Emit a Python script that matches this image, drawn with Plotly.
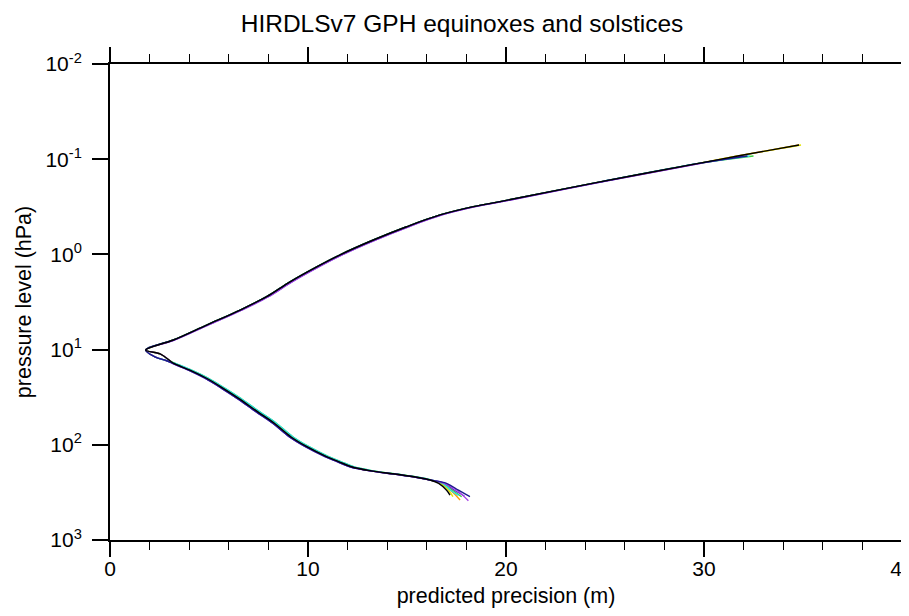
import plotly.graph_objects as go

# ---- data ----
# upper branch (pressure hPa, precision m)
p_upper = [0.11, 0.173, 0.279, 0.315, 0.385, 0.512, 0.706, 1.01, 1.35, 1.94, 2.78, 3.84, 5.52, 7.93, 10.1]
x_upper = [29.8, 24.75, 19.70, 18.35, 16.67, 14.98, 13.30, 11.62, 10.44, 9.09, 7.91, 6.57, 4.88, 3.20, 1.80]
x_upper_b = [29.9, 24.85, 19.80, 18.45, 16.77, 15.08, 13.40, 11.72, 10.54, 9.19, 8.00, 6.65, 4.95, 3.25, 1.80]

# small lens just below the minimum (two paths)
p_lens_a = [11.1, 13.1]
x_lens_a = [2.53, 3.03]
p_lens_b = [11.9, 13.1]
x_lens_b = [2.27, 2.86]

# lower branch
p_lower = [13.9, 16.4, 20.0, 25.5, 32.5, 44.9, 59.4, 82.2, 104.7, 133, 150, 170, 187, 204, 219, 234]
x_lower = [3.20, 4.04, 4.88, 5.72, 6.50, 7.45, 8.30, 9.13, 9.95, 10.94, 11.55, 12.20, 13.13, 14.48, 15.49, 16.16]
x_lower_b = [3.26, 4.12, 4.97, 5.81, 6.60, 7.55, 8.40, 9.23, 10.05, 11.04, 11.65, 12.30, 13.22, 14.56, 15.56, 16.22]
x_lower_c = [3.14, 3.97, 4.80, 5.64, 6.42, 7.37, 8.22, 9.05, 9.87, 10.86, 11.47, 12.12, 13.06, 14.42, 15.44, 16.14]

# per-series settings
names = ["orange", "yellow", "green", "cyan", "blueviolet", "purple", "navy", "black"]
colors = ["#ff9a00", "#e4e400", "#3ccf3c", "#2ee0e0", "#6a30d0", "#a642e6", "#1c1c8c", "#000000"]
upper_set = ["a", "a", "a", "a", "b", "b", "a", "a"]
lower_set = ["a", "a", "b", "b", "c", "c", "c", "a"]
lens = ["b", "a", "a", "b", "b", "a", "b", "a"]
top_p = [[0.071, 0.0925], [0.071, 0.0925], [0.0925], [0.0925], [0.0925], [], [0.0925], [0.071, 0.0925]]
top_x = [[34.8, 31.7], [34.9, 31.7], [32.5], [32.3], [32.0], [], [32.2], [34.8, 31.7]]
bot_p = [[254, 300, 380], [254, 300, 351], [254, 300, 351], [254, 300, 340],
         [254, 300, 345], [254, 298, 386], [254, 300, 351], [254, 300, 337]]
bot_x = [[16.7, 17.2, 17.68], [16.7, 17.1, 17.32], [16.8, 17.3, 17.76], [16.8, 17.2, 17.6],
         [16.9, 17.4, 17.9], [16.9, 17.5, 18.1], [17.0, 17.6, 18.18], [16.6, 17.0, 17.17]]

title = "HIRDLSv7 GPH equinoxes and solstices"
x_title = "predicted precision (m)"
y_title = "pressure level (hPa)"
y_tickvals = [0.01, 0.1, 1, 10, 100, 1000]
y_ticktext = ["10<sup>-2</sup>", "10<sup>-1</sup>", "10<sup>0</sup>", "10<sup>1</sup>", "10<sup>2</sup>", "10<sup>3</sup>"]
x_tickvals = [0, 10, 20, 30, 40]

FONT = "Liberation Sans, Arial, Helvetica, sans-serif"

upper_map = {"a": x_upper, "b": x_upper_b}
lower_map = {"a": x_lower, "b": x_lower_b, "c": x_lower_c}
lens_map = {"a": (p_lens_a, x_lens_a), "b": (p_lens_b, x_lens_b)}

fig = go.Figure()
for i, name in enumerate(names):
    lp, lx = lens_map[lens[i]]
    pairs = sorted(zip(top_p[i], top_x[i]))
    p = [a for a, _ in pairs] + p_upper + lp + p_lower + bot_p[i]
    x = ([b for _, b in pairs] + upper_map[upper_set[i]] + lx
         + lower_map[lower_set[i]] + bot_x[i])
    fig.add_trace(go.Scatter(x=x, y=p, mode="lines", name=name,
                             line=dict(color=colors[i], width=1.4, shape="spline", smoothing=1.0)))

# the page body has an 8px margin; height kept so that no vertical scrollbar appears
W, H = 901, 600
fig.update_layout(
    width=W, height=H,
    margin=dict(l=102, r=7, t=56, b=H - 56 - 476, autoexpand=False),
    paper_bgcolor="white", plot_bgcolor="white",
    showlegend=False,
    font=dict(family=FONT, color="black"),
    title=dict(text=title, x=454 / W, xref="container", xanchor="center",
               y=1 - 15 / H, yref="container", yanchor="middle", automargin=False,
               font=dict(family=FONT, size=24.5, color="black")),
)
fig.update_xaxes(
    range=[0, 40], tickvals=x_tickvals, ticks="outside", ticklen=15, tickwidth=1.5,
    tickcolor="black", showline=True, linecolor="black", linewidth=2, mirror="ticks",
    showgrid=False, zeroline=False, tickfont=dict(size=21, family=FONT),
    ticklabelstandoff=-6, automargin=False, ticklabeloverflow="allow",
    minor=dict(dtick=2, ticks="outside", ticklen=8, tickwidth=1, tickcolor="black", showgrid=False),
    title=dict(text=x_title, font=dict(size=21.5, family=FONT), standoff=9),
)
fig.update_yaxes(
    type="log", range=[3, -2], tickvals=y_tickvals, ticktext=y_ticktext,
    ticks="outside", ticklen=16, tickwidth=1.5, tickcolor="black",
    showline=True, linecolor="black", linewidth=2, mirror="ticks",
    showgrid=False, zeroline=False, tickfont=dict(size=21, family=FONT),
    ticklabelstandoff=6, automargin=False,
    title=dict(text=y_title, font=dict(size=21.5, family=FONT), standoff=8),
)

fig.write_html("out.html")
